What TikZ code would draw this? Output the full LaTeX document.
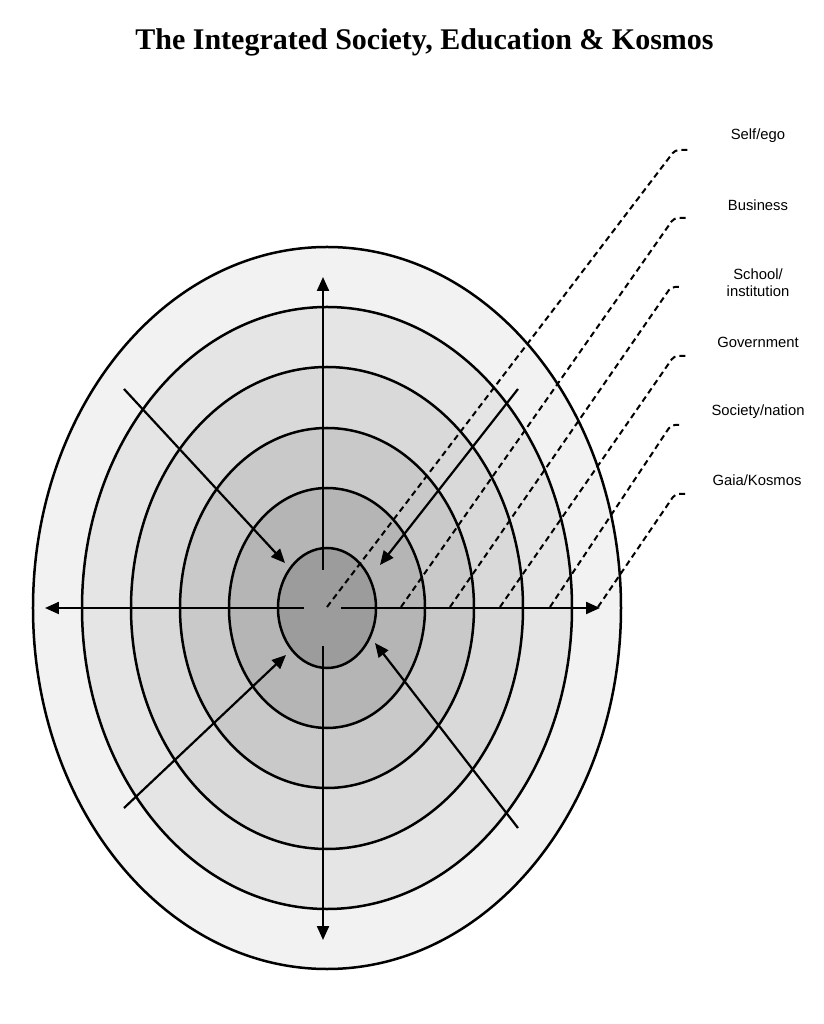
\documentclass[tikz,border=0pt]{standalone}
\usepackage{fontspec}
\setmainfont{Liberation Sans}
\newfontfamily\titlefont{Liberation Serif}
\usetikzlibrary{arrows.meta, positioning, calc}

\begin{document}
\begin{tikzpicture}[
    x=1pt, y=1pt,
    ring/.style={draw=black, line width=2.5pt},
    flowArrow/.style={-{Triangle[length=14pt, width=12pt]}, line width=2.2pt},
    leader/.style={dash pattern=on 6pt off 4pt, line width=2pt, rounded corners=4pt},
    ringLabel/.style={font=\fontsize{14.8}{17}\selectfont, align=center}
]
    \useasboundingbox (-327,-416) rectangle (496,608);

    % --- TITLE ---
    \node[font=\titlefont\bfseries\fontsize{30}{34}\selectfont] (title) at (97.5,566)
        {The Integrated Society, Education \& Kosmos};

    % --- NESTED RINGS (outermost first) ---
    \draw[ring, fill=black!5]  (0,0) ellipse [x radius=294pt, y radius=361pt];
    \draw[ring, fill=black!10] (0,0) ellipse [x radius=245pt, y radius=301pt];
    \draw[ring, fill=black!15] (0,0) ellipse [x radius=196pt, y radius=241pt];
    \draw[ring, fill=black!21] (0,0) ellipse [x radius=147pt, y radius=180pt];
    \draw[ring, fill=black!29] (0,0) ellipse [x radius=98pt, y radius=120pt];
    \draw[ring, fill=black!39] (0,0) ellipse [x radius=49pt, y radius=60pt];

    % --- OUTWARD ARROWS ---
    \coordinate (upS) at (-4,38);   \coordinate (upE) at (-4,331);
    \coordinate (dnS) at (-4,-38);  \coordinate (dnE) at (-4,-332);
    \coordinate (lfS) at (-23,0);   \coordinate (lfE) at (-282,0);
    \coordinate (rtS) at (14,0);    \coordinate (rtE) at (273,0);
    \draw[flowArrow] (upS) -- (upE);
    \draw[flowArrow] (dnS) -- (dnE);
    \draw[flowArrow] (lfS) -- (lfE);
    \draw[flowArrow] (rtS) -- (rtE);

    % --- INWARD ARROWS ---
    \coordinate (ulS) at (-203,219); \coordinate (ulE) at (-42,45);
    \coordinate (urS) at (191,219);  \coordinate (urE) at (53,43);
    \coordinate (llS) at (-203,-200); \coordinate (llE) at (-41,-47);
    \coordinate (lrS) at (191,-220); \coordinate (lrE) at (48,-35);
    \draw[flowArrow] (ulS) -- (ulE);
    \draw[flowArrow] (urS) -- (urE);
    \draw[flowArrow] (llS) -- (llE);
    \draw[flowArrow] (lrS) -- (lrE);

    % --- LABELS ---
    \node[ringLabel] (selfLbl) at (431,472) {Self/ego};
    \node[ringLabel] (busLbl) at (431,403) {Business};
    \node[ringLabel] (schoolLbl) at (431,325.5) {School/\\institution};
    \node[ringLabel] (govLbl) at (431,266) {Government};
    \node[ringLabel] (socLbl) at (431,196) {Society/nation};
    \node[ringLabel] (gaiaLbl) at (430,128) {Gaia/Kosmos};

    % --- DASHED LEADERS (ring -> label) ---
    \coordinate (selfS) at (0,1);     \coordinate (selfE) at (361,458);
    \coordinate (busS) at (74,1);     \coordinate (busE) at (360,390);
    \coordinate (schoolS) at (123,1); \coordinate (schoolE) at (355,321);
    \coordinate (govS) at (173,1);    \coordinate (govE) at (360,252);
    \coordinate (socS) at (223,1);    \coordinate (socE) at (355,183);
    \coordinate (gaiaS) at (271,1);   \coordinate (gaiaE) at (361,114);
    \draw[leader] (selfS) -- ($(selfE)+(-13,0)$) -- (selfE);
    \draw[leader] (busS) -- ($(busE)+(-13,0)$) -- (busE);
    \draw[leader] (schoolS) -- ($(schoolE)+(-11,0)$) -- (schoolE);
    \draw[leader] (govS) -- ($(govE)+(-13,0)$) -- (govE);
    \draw[leader] (socS) -- ($(socE)+(-11,0)$) -- (socE);
    \draw[leader] (gaiaS) -- ($(gaiaE)+(-13,0)$) -- (gaiaE);

\end{tikzpicture}
\end{document}
